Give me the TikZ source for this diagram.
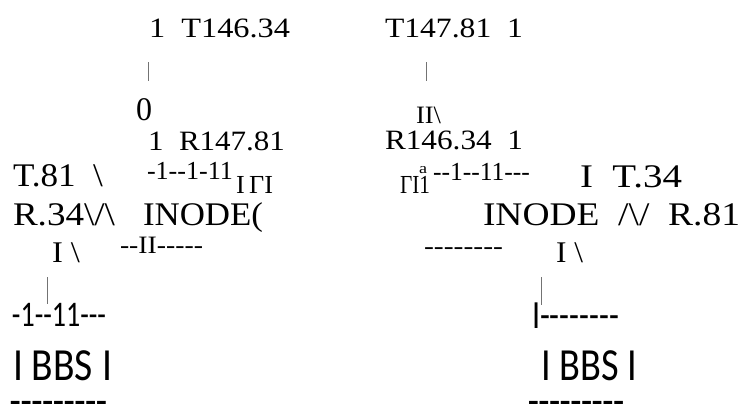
\documentclass[tikz,border=0pt]{standalone}
\usepackage{fontspec}
\usepackage{graphicx}
\setmainfont{Liberation Serif}
\newfontfamily\sansf{Carlito}
\newcommand\hy{-\kern0pt}
\newcommand\bsl{\textbackslash}
\tikzset{
  txt/.style={anchor=base west,inner sep=0pt,outer sep=0pt},
  tick/.style={draw=black!55,line width=0.8pt}
}
\newcommand\ptxt[7]{\node[txt] (#1) at (#2,#3) {#6\fontsize{#5pt}{#5pt}\selectfont\resizebox{#4pt}{\height}{#7}};}
\begin{document}
\begin{tikzpicture}[x=1pt,y=-1pt]
\useasboundingbox (0,0) rectangle (746,415);
% serif texts
\ptxt{s1}{149}{37}{141}{28}{\rmfamily}{1~~T146.34}
\ptxt{s2}{385}{37}{138}{28}{\rmfamily}{T147.81~~1}
\ptxt{s3}{136}{120}{16}{33}{\rmfamily}{0}
\ptxt{s4}{416}{123}{25}{25}{\rmfamily}{II\bsl}
\ptxt{s5}{148}{150}{137}{28}{\rmfamily}{1~~R147.81}
\ptxt{s6}{385}{149}{138}{28}{\rmfamily}{R146.34~~1}
\ptxt{s7}{13}{186}{90}{33}{\rmfamily}{T.81~~\bsl}
\ptxt{s8}{147}{179}{86}{26}{\rmfamily}{\hy1\hy\hy1\hy11}
\ptxt{s9}{236}{193}{37}{26}{\rmfamily}{I\,ΓI}
\ptxt{s10}{400}{193}{30}{26}{\rmfamily}{ΓI1}
\ptxt{s10a}{419}{173}{8}{15}{\rmfamily}{a}
\ptxt{s11}{433}{180}{97}{26}{\rmfamily}{\hy\hy1\hy\hy11\hy\hy\hy}
\ptxt{s12}{580}{187}{102}{33}{\rmfamily}{I~~T.34}
\ptxt{s13}{13}{225}{102}{33}{\rmfamily}{R.34\bsl/\bsl}
\ptxt{s14}{143}{225}{120}{33}{\rmfamily}{INODE(}
\ptxt{s15}{483}{225}{257}{33}{\rmfamily}{INODE~~/\bsl/~~R.81}
\ptxt{s16}{52}{262}{28}{30}{\rmfamily}{I~\bsl}
\ptxt{s17}{120}{253}{83}{25}{\rmfamily}{\hy\hy II\hy\hy\hy\hy\hy}
\ptxt{s18}{424}{254}{79}{25}{\rmfamily}{\hy\hy\hy\hy\hy\hy\hy\hy}
\ptxt{s19}{556}{262}{27}{30}{\rmfamily}{I~\bsl}
% sans texts
\ptxt{b1}{12}{326}{94}{36}{\sansf}{\hy1\hy\hy11\hy\hy\hy}
\ptxt{b2}{532}{328}{87}{40}{\sansf}{I\hy\hy\hy\hy\hy\hy\hy\hy}
\ptxt{b3}{13}{380}{99}{46}{\sansf}{I BBS I}
\ptxt{b4}{541}{380}{96}{46}{\sansf}{I BBS I}
\ptxt{b5}{10}{411}{97}{30}{\sansf\bfseries}{\hy\hy\hy\hy\hy\hy\hy\hy\hy}
\ptxt{b6}{528}{411}{96}{30}{\sansf\bfseries}{\hy\hy\hy\hy\hy\hy\hy\hy\hy}
% thin vertical ticks
\coordinate (t1a) at (148,62); \coordinate (t1b) at (148,81);
\coordinate (t2a) at (426,62); \coordinate (t2b) at (426,81);
\coordinate (t3a) at (47,277); \coordinate (t3b) at (47,304);
\coordinate (t4a) at (541,277); \coordinate (t4b) at (541,305);
\draw[tick] (t1a) -- (t1b);
\draw[tick] (t2a) -- (t2b);
\draw[tick] (t3a) -- (t3b);
\draw[tick] (t4a) -- (t4b);
\end{tikzpicture}
\end{document}
